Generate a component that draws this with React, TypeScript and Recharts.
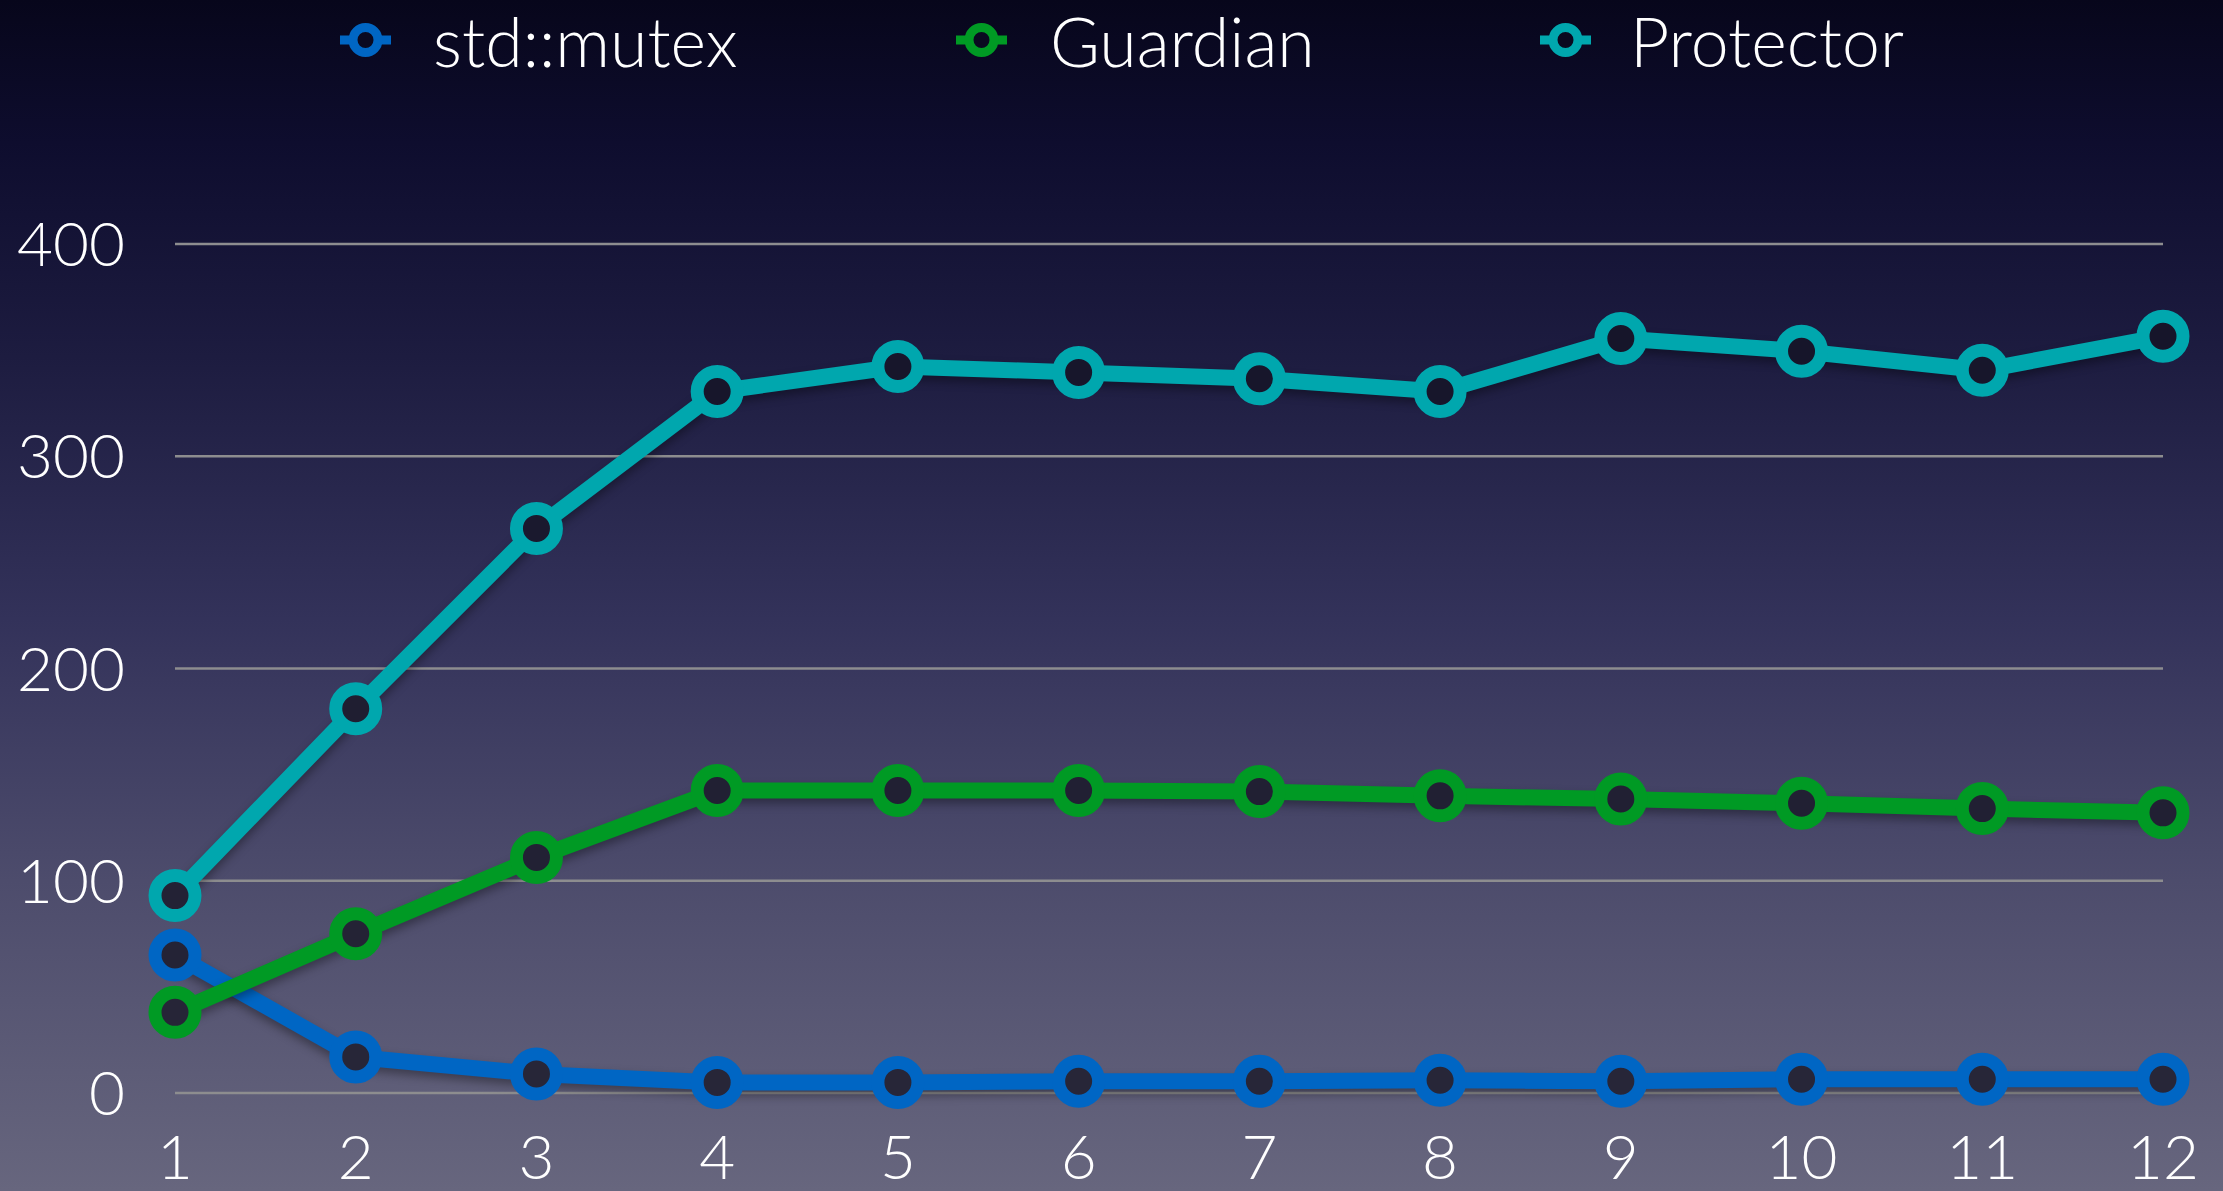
import { LineChart, Line, XAxis, YAxis, CartesianGrid } from 'recharts';

// thread counts along the x axis
const threads = ['1', '2', '3', '4', '5', '6', '7', '8', '9', '10', '11', '12'];

// throughput per series
const mutexValues = [65, 17, 9, 5, 5, 5.5, 5.5, 6, 5.5, 6.5, 6.5, 6.5];
const guardianValues = [38, 75, 111, 142.5, 142.5, 142.5, 142, 140, 138.5, 136.5, 134, 132];
const protectorValues = [93, 181, 266, 330.5, 342.3, 339.5, 336.5, 330.5, 355.5, 349.5, 340.5, 356.5];

const yTicks = [0, 100, 200, 300, 400];

const seriesNames = ['std::mutex', 'Guardian', 'Protector'];
const seriesKeys = ['mutex', 'guardian', 'protector'];
const seriesColors = ['#0066c4', '#009a24', '#00a7ae'];

const data = threads.map((t, i) => ({
  x: t,
  mutex: mutexValues[i],
  guardian: guardianValues[i],
  protector: protectorValues[i],
}));

const FONT = 'Lato, Inter, "Helvetica Neue", "Liberation Sans", sans-serif';

// the ring holes are a darkened copy of the backdrop, so shade them by height
const holeFill = (cy: number) => {
  const t = Math.max(0, Math.min(1, cy / 1191));
  const mix = (a: number, b: number) => Math.round(a + (b - a) * t);
  return `rgb(${mix(14, 42)}, ${mix(13, 41)}, ${mix(36, 58)})`;
};

const ringDot = (color: string) => (props: any) => {
  const { cx, cy, index } = props;
  if (cx == null || cy == null) return null;
  return (
    <circle key={`dot-${index}`} cx={cx} cy={cy} r={20} fill={holeFill(cy)} stroke={color} strokeWidth={13} />
  );
};

// legend layout: icon left, text left
const legendSlots = [
  { icon: 340, text: 433 },
  { icon: 956, text: 1050 },
  { icon: 1540, text: 1630 },
];

function SlideLegend() {
  return (
    <svg width={2223} height={100} style={{ position: 'absolute', left: 0, top: 0 }}>
      {seriesNames.map((name, i) => {
        const slot = legendSlots[i];
        return (
          <g key={name}>
            <line x1={slot.icon} x2={slot.icon + 51} y1={40} y2={40} stroke={seriesColors[i]} strokeWidth={9} />
            <circle cx={slot.icon + 25.5} cy={40} r={12.5} fill="#0a0920" stroke={seriesColors[i]} strokeWidth={9} />
            <text x={slot.text} y={67} fill="#fff" fontSize={68} fontWeight={300} fontFamily={FONT}>
              {name}
            </text>
          </g>
        );
      })}
    </svg>
  );
}

export default function App() {
  const tick = { fill: '#ffffff', fontSize: 62, fontWeight: 300, fontFamily: FONT };
  return (
    <div
      style={{
        position: 'absolute', left: 0, top: 0, width: 2223, height: 1191, overflow: 'hidden',
        background: 'linear-gradient(180deg, #07061b 0%, #0e0d2e 12%, #1d1c40 30%, #33325a 52%, #4d4c6c 74%, #67667e 100%)',
      }}
    >
      <style>{`.recharts-line { filter: drop-shadow(0px 5px 5px rgba(0,0,0,0.35)); }`}</style>
      <SlideLegend />
      <LineChart width={2223} height={1191} data={data} margin={{ top: 244, right: 60, bottom: 0, left: 0 }}>
        <CartesianGrid vertical={false} stroke="#8d8d8f" strokeWidth={2.5} />
        <XAxis
          dataKey="x" interval={0} axisLine={false} tickLine={false}
          tickSize={0} tickMargin={42} height={98} tick={tick}
        />
        <YAxis
          domain={[0, 400]} ticks={yTicks} axisLine={false} tickLine={false}
          tickSize={0} tickMargin={50} width={175} tick={tick}
        />
        {seriesKeys.map((key, i) => (
          <Line
            key={key}
            dataKey={key}
            name={seriesNames[i]}
            stroke={seriesColors[i]}
            strokeWidth={16}
            strokeLinejoin="round"
            dot={ringDot(seriesColors[i])}
            isAnimationActive={false}
          />
        ))}
      </LineChart>
    </div>
  );
}
